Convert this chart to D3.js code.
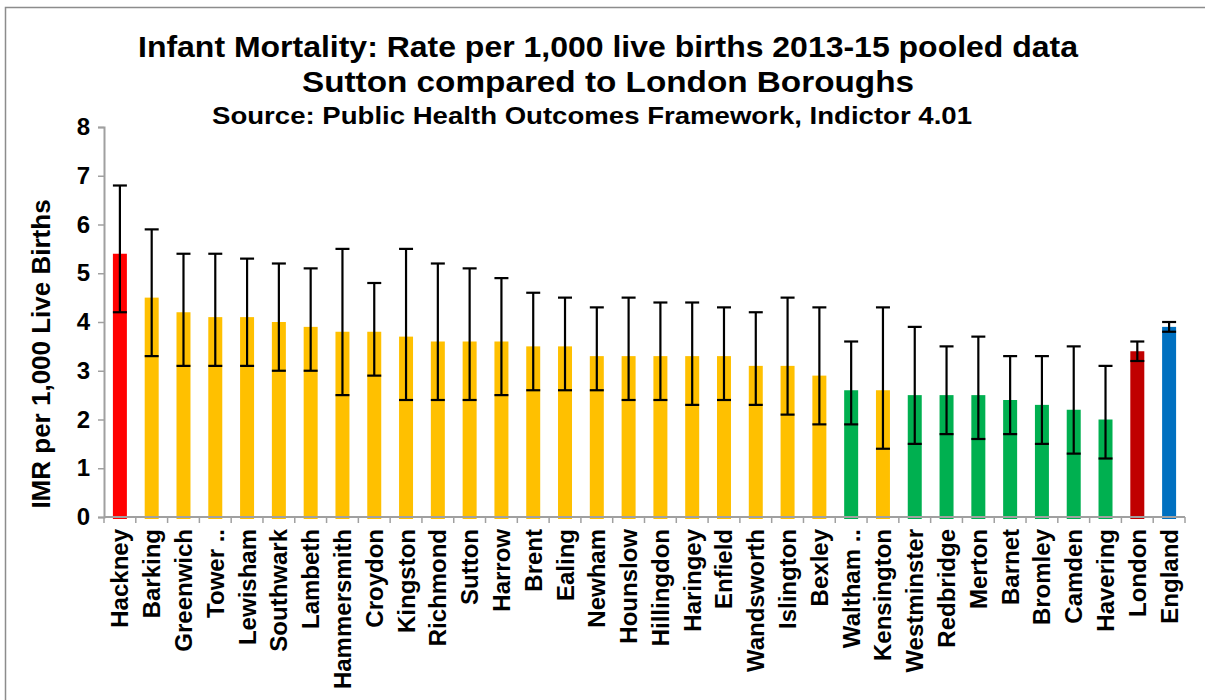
<!DOCTYPE html>
<html>
<head>
<meta charset="utf-8">
<script src="https://cdn.jsdelivr.net/npm/d3@7"></script>
<style>
  html, body { margin: 0; padding: 0; background: #fff; }
  svg { display: block; font-family: "Liberation Sans", Arial, sans-serif; }
</style>
</head>
<body>
<svg id="chart" width="1205" height="700"></svg>
<script>
const categories = ["Hackney","Barking","Greenwich","Tower ..","Lewisham","Southwark","Lambeth","Hammersmith","Croydon","Kingston","Richmond","Sutton","Harrow","Brent","Ealing","Newham","Hounslow","Hillingdon","Haringey","Enfield","Wandsworth","Islington","Bexley","Waltham ..","Kensington","Westminster","Redbridge","Merton","Barnet","Bromley","Camden","Havering","London","England"];
const values = [5.4,4.5,4.2,4.1,4.1,4.0,3.9,3.8,3.8,3.7,3.6,3.6,3.6,3.5,3.5,3.3,3.3,3.3,3.3,3.3,3.1,3.1,2.9,2.6,2.6,2.5,2.5,2.5,2.4,2.3,2.2,2.0,3.4,3.9];
const lowerCI = [4.2,3.3,3.1,3.1,3.1,3.0,3.0,2.5,2.9,2.4,2.4,2.4,2.5,2.6,2.6,2.6,2.4,2.4,2.3,2.4,2.3,2.1,1.9,1.9,1.4,1.5,1.7,1.6,1.7,1.5,1.3,1.2,3.2,3.8];
const upperCI = [6.8,5.9,5.4,5.4,5.3,5.2,5.1,5.5,4.8,5.5,5.2,5.1,4.9,4.6,4.5,4.3,4.5,4.4,4.4,4.3,4.2,4.5,4.3,3.6,4.3,3.9,3.5,3.7,3.3,3.3,3.5,3.1,3.6,4.0];
const groups = ["worse","similar","similar","similar","similar","similar","similar","similar","similar","similar","similar","similar","similar","similar","similar","similar","similar","similar","similar","similar","similar","similar","similar","better","similar","better","better","better","better","better","better","better","london","england"];
const groupColors = {worse:"#FF0000", similar:"#FFC000", better:"#00B050", london:"#C00000", england:"#0070C0"};
const yTicks = [0,1,2,3,4,5,6,7,8];
const titleLines = ["Infant Mortality: Rate per 1,000 live births 2013-15 pooled data","Sutton compared to London Boroughs"];
const subtitle = "Source: Public Health Outcomes Framework, Indictor 4.01";
const yLabel = "IMR per 1,000 Live Births";

const svg = d3.select("#chart");
const plotL = 104, plotR = 1185, plotT = 127, plotB = 517;

// outer frame
svg.append("rect").attr("x",5.5).attr("y",7.5).attr("width",1250).attr("height",750)
  .attr("fill","none").attr("stroke","#8c8c8c").attr("stroke-width",1.5);

const x = d3.scaleBand().domain(categories).range([plotL,plotR]).paddingInner(0.56).paddingOuter(0.28);
const y = d3.scaleLinear().domain([0,8]).range([plotB,plotT]);

// titles
svg.append("text").attr("x",608).attr("y",57).attr("text-anchor","middle")
  .attr("font-size",29).attr("font-weight","bold")
  .attr("textLength",940).attr("lengthAdjust","spacingAndGlyphs").text(titleLines[0]);
svg.append("text").attr("x",608).attr("y",92).attr("text-anchor","middle")
  .attr("font-size",29).attr("font-weight","bold")
  .attr("textLength",612).attr("lengthAdjust","spacingAndGlyphs").text(titleLines[1]);
svg.append("text").attr("x",592).attr("y",124).attr("text-anchor","middle")
  .attr("font-size",24).attr("font-weight","bold")
  .attr("textLength",760).attr("lengthAdjust","spacingAndGlyphs").text(subtitle);

// bars
const data = categories.map((c,i)=>({c, v:values[i], lo:lowerCI[i], hi:upperCI[i], g:groups[i]}));
svg.append("g").selectAll("rect").data(data).join("rect")
  .attr("x",d=>x(d.c)).attr("width",x.bandwidth())
  .attr("y",d=>y(d.v)).attr("height",d=>y(0)-y(d.v)+2)
  .attr("fill",d=>groupColors[d.g]);

// y axis
const yAxis = svg.append("g").attr("transform",`translate(${plotL},0)`)
  .call(d3.axisLeft(y).tickValues(yTicks).tickSize(6).tickPadding(8).tickFormat(d3.format("d")));
yAxis.select(".domain").attr("stroke","#a0a0a0").attr("stroke-width",2);
yAxis.selectAll(".tick line").attr("stroke","#a0a0a0").attr("stroke-width",1.5);
yAxis.selectAll(".tick text").attr("font-size",24).attr("font-weight","bold").attr("fill","#000")
  .attr("font-family","Liberation Sans, Arial, sans-serif");

// x axis with boundary ticks
const xg = svg.append("g");
xg.append("line").attr("x1",plotL).attr("x2",plotR).attr("y1",plotB).attr("y2",plotB)
  .attr("stroke","#a0a0a0").attr("stroke-width",2);
const step = x.step();
const boundaries = d3.range(categories.length+1).map(i => x(categories[0]) - x.paddingOuter()*step + i*step);
xg.selectAll("line.bt").data(boundaries).join("line").attr("class","bt")
  .attr("x1",d=>d).attr("x2",d=>d).attr("y1",plotB).attr("y2",plotB+6)
  .attr("stroke","#a0a0a0").attr("stroke-width",1.5);
xg.selectAll("text").data(categories).join("text")
  .attr("transform",d=>`translate(${x(d)+x.bandwidth()/2+8.5},${plotB+12}) rotate(-90)`)
  .attr("text-anchor","end").attr("font-size",24).attr("font-weight","bold").text(d=>d);

// error bars
const eb = svg.append("g").attr("stroke","#000").attr("stroke-width",2.2);
data.forEach(d=>{
  const cx = x(d.c)+x.bandwidth()/2;
  const cw = 7;
  eb.append("line").attr("x1",cx).attr("x2",cx).attr("y1",y(d.lo)).attr("y2",y(d.hi));
  eb.append("line").attr("x1",cx-cw).attr("x2",cx+cw).attr("y1",y(d.lo)).attr("y2",y(d.lo));
  eb.append("line").attr("x1",cx-cw).attr("x2",cx+cw).attr("y1",y(d.hi)).attr("y2",y(d.hi));
});

// y label
svg.append("text").attr("transform",`translate(50,354) rotate(-90)`).attr("text-anchor","middle")
  .attr("font-size",26).attr("font-weight","bold").text(yLabel);
</script>
</body>
</html>
